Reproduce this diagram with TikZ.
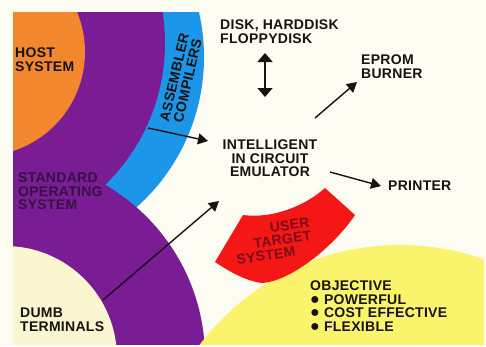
\documentclass[tikz,border=0pt]{standalone}
\usepackage{fontspec}
\setmainfont{Liberation Sans}[LetterSpace=2]
\usetikzlibrary{arrows.meta}
\definecolor{bgc}{RGB}{252,252,243}
\definecolor{orangec}{RGB}{242,135,45}
\definecolor{purplec}{RGB}{122,28,148}
\definecolor{bluec}{RGB}{28,150,232}
\definecolor{redc}{RGB}{245,22,22}
\definecolor{yellowc}{RGB}{250,244,108}
\definecolor{creamc}{RGB}{250,246,208}
\definecolor{txtc}{RGB}{24,18,18}
\definecolor{txtpurple}{RGB}{52,18,66}
\definecolor{txtred}{RGB}{120,12,24}
\begin{document}
\begin{tikzpicture}[x=1pt,y=-1pt,
  lbl/.style={font=\fontsize{14}{13.5}\selectfont\bfseries, text=txtc, inner sep=0pt, align=left},
  arr/.style={line width=1.4pt, draw=txtc, -{Triangle[length=10pt,width=11pt]}},
  darr/.style={line width=1.6pt, draw=txtc, {Triangle[length=9pt,width=15pt]}-{Triangle[length=9pt,width=15pt]}}]
\fill[bgc] (0,0) rectangle (486,346);
\useasboundingbox (0,0) rectangle (486,346);
\begin{scope}
  \clip (13,12) rectangle (484,344);
  \fill[bluec] (3,57) circle (201);
  \fill[purplec] (-33,43) circle (198);
  \fill[orangec] (-19,52) circle (104);
  \fill[purplec] (5,358) circle (200);
  \fill[creamc] (5,358) circle (112);
  \fill[yellowc] (400,496) circle (251);
\end{scope}
% user target system band
\fill[redc] (243,215) .. controls (272,219) and (305,206) .. (325,188)
  -- (355,215) .. controls (335,245) and (292,281) .. (262,283)
  .. controls (246,281) and (230,272) .. (215,262) -- cycle;

% labels
\node[lbl, anchor=north west] (host) at (15,48) {HOST\\SYSTEM};
\node[lbl, align=center, rotate=77] (asm) at (181,79) {ASSEMBLER\\COMPILERS};
\node[lbl, text=txtpurple, anchor=north west] (os) at (18,173) {STANDARD\\OPERATING\\SYSTEM};
\node[lbl, anchor=north west] (disk) at (220,20) {DISK, HARDDISK\\FLOPPYDISK};
\node[lbl, anchor=north west] (eprom) at (361,55) {EPROM\\BURNER};
\node[lbl, align=center, anchor=north] (emu) at (270,140) {INTELLIGENT\\IN CIRCUIT\\EMULATOR};
\node[lbl, anchor=north west] (printer) at (388,181) {PRINTER};
\node[lbl, text=txtred, align=right, rotate=8] (user) at (273,241) {USER\\TARGET\\SYSTEM\hspace*{18pt}};
\node[lbl, anchor=north west] (dumb) at (20,308) {DUMB\\TERMINALS};
\node[lbl, anchor=north west] (obj) at (310,281) {OBJECTIVE\\{\fontsize{16}{13.5}\selectfont●} POWERFUL\\{\fontsize{16}{13.5}\selectfont●} COST EFFECTIVE\\{\fontsize{16}{13.5}\selectfont●} FLEXIBLE};

% arrows
\coordinate (a1s) at (148,128); \coordinate (a1e) at (208,141);
\coordinate (a2s) at (265,53);  \coordinate (a2e) at (265,97);
\coordinate (a3s) at (315,118); \coordinate (a3e) at (357,82);
\coordinate (a4s) at (330,172); \coordinate (a4e) at (381,186);
\coordinate (a5s) at (103,300); \coordinate (a5e) at (219,201);
\draw[arr] (a1s) -- (a1e);
\draw[darr] (a2s) -- (a2e);
\draw[arr] (a3s) -- (a3e);
\draw[arr] (a4s) -- (a4e);
\draw[arr] (a5s) -- (a5e);
\end{tikzpicture}
\end{document}
